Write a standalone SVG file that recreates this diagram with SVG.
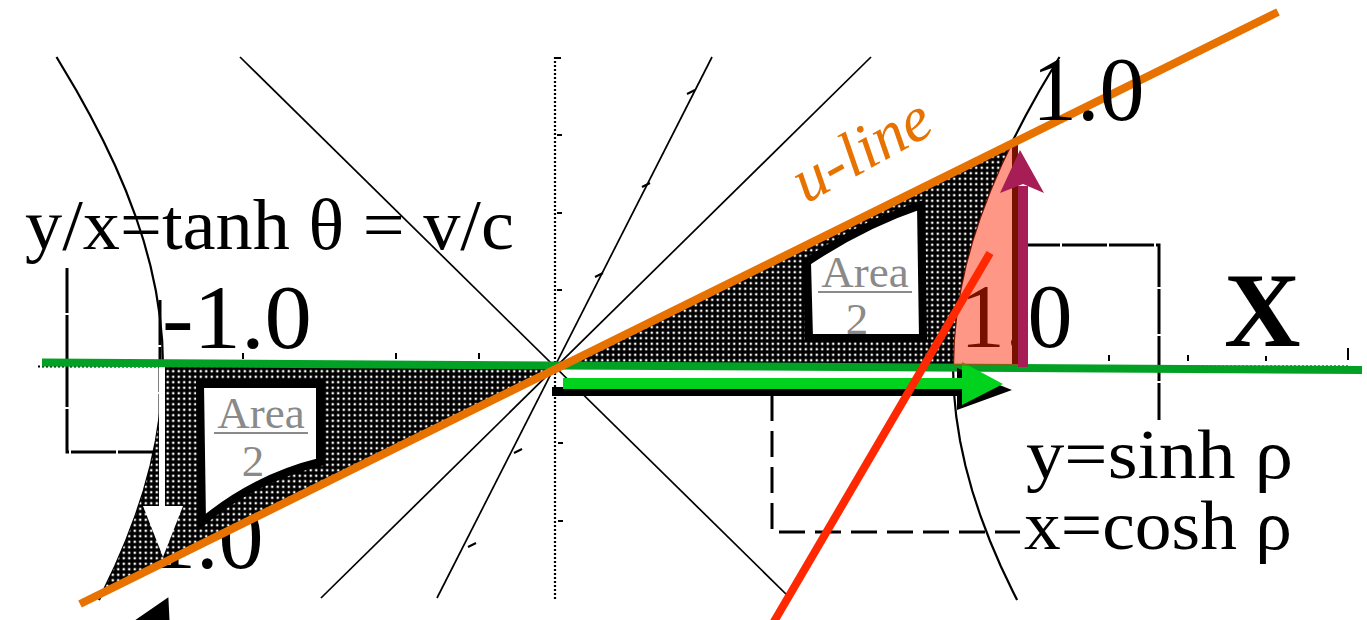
<svg xmlns="http://www.w3.org/2000/svg" width="1367" height="620" viewBox="0 0 1367 620">
<style>
.serif{font-family:"Liberation Serif","Times New Roman",serif}
.thin{fill:none;stroke:#000;stroke-width:1.7}
.hyp{fill:none;stroke:#000;stroke-width:2.2}
.dot{fill:none;stroke:#000;stroke-width:2.2;stroke-dasharray:2 2}
.box{fill:none;stroke:#000;stroke-width:3;stroke-dasharray:45 2}
.tick{stroke:#000;stroke-width:2}
.lbl{font-size:90px;fill:#000}
.area{fill:#fff;stroke:#000;stroke-width:8;stroke-linejoin:miter}
.atxt{font-size:45px;fill:#8a8a8a}
.uline{stroke:#8a8a8a;stroke-width:2}
</style>
<defs>
<pattern id="dots" width="5.5" height="5.5" patternUnits="userSpaceOnUse">
<rect width="5.5" height="5.5" fill="#000"/>
<rect x="1.6" y="1.6" width="2.3" height="2.3" fill="#fff"/>
</pattern>
</defs>
<rect width="1367" height="620" fill="#fff"/>

<g id="axes">
<line class="dot" x1="555" y1="57" x2="555" y2="600"/>
<line class="dot" x1="38" y1="366.5" x2="1350" y2="366.5"/>
<path class="tick" d="M555,58 h6 M557,135 h5 M557,213 h5 M557,290 h5 M558,443 h5 M558,521 h5"/>
<path class="tick" d="M243,353 v6 M396,353 v6 M479,353 v6 M1109,355 v6 M1188,355 v6 M1266,356 v5 M1348,348 v12"/>
</g>

<g id="fan">
<line class="thin" x1="240" y1="57" x2="790" y2="598"/>
<line class="thin" x1="871" y1="57" x2="321" y2="598"/>
<line class="thin" x1="712" y1="57" x2="437" y2="598"/>
<path class="tick" d="M695,90 l-8,4 M650,183 l-8,4 M603,273 l-8,4 M514,453 l8,-4 M468,547 l8,-4"/>
</g>

<g id="hyperbola-right">
<polyline class="hyp" points="1059.5,57 1039.3,91 1025.5,116 1012.6,141 1000.7,166 990,191 980.5,216 972.3,241 965.5,266 960.1,291 956.2,316 953.8,341 953,366 953.8,391 956.2,416 960.1,441 965.5,466 972.3,491 980.5,516 990,541 1000.7,566 1012.6,591 1017.1,600"/>
</g>
<g id="hyperbola-left">
<polyline class="hyp" points="56.5,57 76.7,91 90.5,116 103.4,141 115.3,166 126,191 135.5,216 143.7,241 150.5,266 155.9,291 159.8,316 162.2,341 163,366 162.2,391 159.8,416 155.9,441 150.5,466 143.7,491 135.5,516 126,541 115.3,566 103.4,591 98.9,600"/>
</g>

<g id="frames">
<path class="box" d="M67,268 V452 H163"/>
<path class="box" d="M160,300 V452"/>
<path class="box" d="M1015,245 H1159 V420"/>
<line x1="1015" y1="142" x2="1015" y2="366" stroke="#000" stroke-width="6"/>
<path class="box" d="M772,395 V532 H1020" style="stroke-dasharray:26 10"/>
</g>

<g id="labels-under">
<text class="serif lbl" x="162" y="348" textLength="150" lengthAdjust="spacingAndGlyphs">-1.0</text>
<text class="serif lbl" x="960" y="347">1.0</text>
<text class="serif lbl" x="151" y="568">1.0</text>
</g>

<g id="sector-left">
<polygon fill="url(#dots)" points="558,366 163,366 162.2,391 159.8,416 155.9,441 150.5,466 143.7,491 135.5,516 126,541 115.3,566 103.9,590"/>
</g>
<g id="sector-right">
<polygon fill="url(#dots)" points="558,366 1012.3,141.6 1000.7,166 990,191 980.5,216 972.3,241 965.5,266 960.1,291 956.2,316 953.8,341 953,366"/>
</g>

<g id="area-left">
<path class="area" d="M200,384 L320,384 L320,462 Q255,478 202,522 Z"/>
<text class="serif atxt" x="261" y="428" text-anchor="middle">Area</text>
<line class="uline" x1="214" y1="433" x2="308" y2="433"/>
<text class="serif atxt" x="253" y="476" text-anchor="middle">2</text>
</g>
<g id="area-right">
<path class="area" d="M807,262 Q862,225 921,205 L923,338 L809,338 Z"/>
<text class="serif atxt" x="865" y="287" text-anchor="middle">Area</text>
<line class="uline" x1="818" y1="292" x2="912" y2="292"/>
<text class="serif atxt" x="857" y="334" text-anchor="middle">2</text>
</g>

<g id="white-arrow">
<rect x="159" y="367" width="6" height="141" fill="#fff"/>
<polygon points="143,506 183,506 163,557" fill="#fff"/>
</g>

<g id="connectors">
<line x1="42" y1="362.5" x2="1362" y2="370" stroke="#02A126" stroke-width="8"/>
<polygon fill="#000" points="552,387 962,387 962,396 552,396"/>
<polygon fill="#000" points="957,368 1012,390 957,410"/>
<polygon fill="#00D21E" points="563,378 965,378 965,389 563,389"/>
<polygon fill="#00D21E" points="962,362 1003,384 962,405"/>
<polygon fill="#FF2200" fill-opacity="0.47" points="953,366 953.8,341 956.2,316 960.1,291 965.5,266 972.3,241 980.5,216 990,191 1000.7,166 1012.3,141.6 1018,141.6 1019,366"/>
<line x1="80" y1="604" x2="1278" y2="12" stroke="#E87200" stroke-width="8"/>
<line x1="1023" y1="367" x2="1023" y2="186" stroke="#A61E55" stroke-width="10"/>
<polygon fill="#A61E55" points="1020,150 1044,193 1023,184 1000,193"/>
<line x1="772" y1="625" x2="990" y2="253" stroke="#FF2800" stroke-width="8"/>
<polygon fill="#000" stroke="#000" stroke-width="3" points="138,620 167,600 168,620"/>
</g>

<g id="labels">
<text class="serif" x="25" y="249" font-size="72" textLength="489" lengthAdjust="spacingAndGlyphs">y/x=tanh θ = v/c</text>
<text class="serif lbl" x="1032" y="120">1.0</text>
<text class="serif" x="1224" y="346" font-size="106" font-weight="bold">X</text>
<text class="serif" x="1026" y="478" font-size="70" textLength="267" lengthAdjust="spacingAndGlyphs">y=sinh ρ</text>
<text class="serif" x="1024" y="549" font-size="70" textLength="268" lengthAdjust="spacingAndGlyphs">x=cosh ρ</text>
<text class="serif" font-size="64" font-style="italic" fill="#E87200" transform="translate(806,204) rotate(-29)">u-line</text>
</g>
</svg>
